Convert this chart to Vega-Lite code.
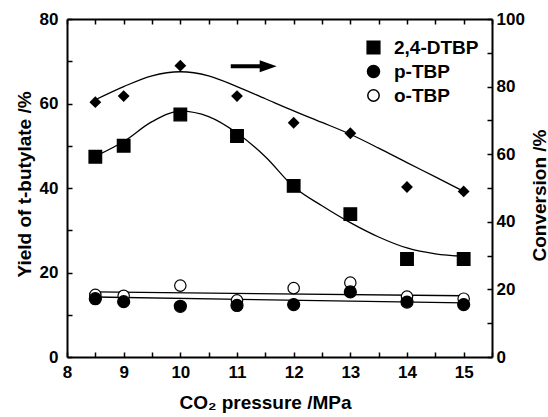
{
  "$schema": "https://vega.github.io/schema/vega-lite/v6.json",
  "width": 425,
  "height": 338,
  "autosize": {"type": "none"},
  "padding": {"left": 67, "top": 19, "right": 56, "bottom": 60},
  "background": "white",
  "config": {
    "view": {"stroke": null},
    "font": "Liberation Sans",
    "axis": {
      "domainColor": "black", "domainWidth": 2, "tickColor": "black", "tickWidth": 1.5,
      "tickSize": -5, "labelColor": "black", "labelFont": "Liberation Sans", "labelFontSize": 17,
      "labelFontWeight": "bold", "titleColor": "black", "titleFont": "Liberation Sans",
      "titleFontSize": 19, "titleFontWeight": "bold", "grid": false
    },
    "legend": {
      "labelFont": "Liberation Sans", "labelFontSize": 19, "labelFontWeight": "bold", "labelColor": "black"
    }
  },
  "datasets": {
    "points": [
      {"series": "o-TBP", "pressure": 8.5, "value": 14.7},
      {"series": "o-TBP", "pressure": 9, "value": 14.5},
      {"series": "o-TBP", "pressure": 10, "value": 16.9},
      {"series": "o-TBP", "pressure": 11, "value": 13.4},
      {"series": "o-TBP", "pressure": 12, "value": 16.3},
      {"series": "o-TBP", "pressure": 13, "value": 17.6},
      {"series": "o-TBP", "pressure": 14, "value": 14.3},
      {"series": "o-TBP", "pressure": 15, "value": 13.8},
      {"series": "p-TBP", "pressure": 8.5, "value": 13.8},
      {"series": "p-TBP", "pressure": 9, "value": 13.1},
      {"series": "p-TBP", "pressure": 10, "value": 12.0},
      {"series": "p-TBP", "pressure": 11, "value": 12.2},
      {"series": "p-TBP", "pressure": 12, "value": 12.4},
      {"series": "p-TBP", "pressure": 13, "value": 15.4},
      {"series": "p-TBP", "pressure": 14, "value": 13.0},
      {"series": "p-TBP", "pressure": 15, "value": 12.4},
      {"series": "2,4-DTBP", "pressure": 8.5, "value": 47.4},
      {"series": "2,4-DTBP", "pressure": 9, "value": 50.0},
      {"series": "2,4-DTBP", "pressure": 10, "value": 57.4},
      {"series": "2,4-DTBP", "pressure": 11, "value": 52.3},
      {"series": "2,4-DTBP", "pressure": 12, "value": 40.5},
      {"series": "2,4-DTBP", "pressure": 13, "value": 33.8},
      {"series": "2,4-DTBP", "pressure": 14, "value": 23.2},
      {"series": "2,4-DTBP", "pressure": 15, "value": 23.2}
    ],
    "fits": [
      {"series": "2,4-DTBP", "pressure": 8.5, "value": 47.5},
      {"series": "2,4-DTBP", "pressure": 9, "value": 51.0},
      {"series": "2,4-DTBP", "pressure": 9.5, "value": 55.7},
      {"series": "2,4-DTBP", "pressure": 10, "value": 58.2},
      {"series": "2,4-DTBP", "pressure": 10.5, "value": 56.9},
      {"series": "2,4-DTBP", "pressure": 11, "value": 53.0},
      {"series": "2,4-DTBP", "pressure": 11.5, "value": 47.4},
      {"series": "2,4-DTBP", "pressure": 12, "value": 40.3},
      {"series": "2,4-DTBP", "pressure": 12.5, "value": 35.8},
      {"series": "2,4-DTBP", "pressure": 13, "value": 31.8},
      {"series": "2,4-DTBP", "pressure": 13.5, "value": 28.4},
      {"series": "2,4-DTBP", "pressure": 14, "value": 25.8},
      {"series": "2,4-DTBP", "pressure": 14.5, "value": 24.4},
      {"series": "2,4-DTBP", "pressure": 15, "value": 23.8},
      {"series": "o-TBP", "pressure": 8.5, "value": 15.4},
      {"series": "o-TBP", "pressure": 15, "value": 14.5},
      {"series": "p-TBP", "pressure": 8.5, "value": 14.2},
      {"series": "p-TBP", "pressure": 15, "value": 12.8}
    ],
    "conversion": [
      {"pressure": 8.5, "value": 75.4},
      {"pressure": 9, "value": 77.2},
      {"pressure": 10, "value": 86.2},
      {"pressure": 11, "value": 77.2},
      {"pressure": 12, "value": 69.3},
      {"pressure": 13, "value": 66.2},
      {"pressure": 14, "value": 50.3},
      {"pressure": 15, "value": 49.0}
    ],
    "conversionFit": [
      {"pressure": 8.5, "value": 76.1},
      {"pressure": 9, "value": 80.0},
      {"pressure": 9.5, "value": 83.2},
      {"pressure": 10, "value": 84.4},
      {"pressure": 10.5, "value": 83.2},
      {"pressure": 11, "value": 80.0},
      {"pressure": 11.5, "value": 76.4},
      {"pressure": 12, "value": 72.8},
      {"pressure": 12.5, "value": 69.4},
      {"pressure": 13, "value": 65.9},
      {"pressure": 13.5, "value": 61.8},
      {"pressure": 14, "value": 57.5},
      {"pressure": 14.5, "value": 53.3},
      {"pressure": 15, "value": 49.0}
    ],
    "arrow": [
      {"start": 10.89, "end": 11.45, "head": 11.55, "value": 68.8}
    ]
  },
  "layer": [
    {
      "data": {"name": "fits"},
      "mark": {"type": "line", "color": "black", "strokeWidth": 1.3, "interpolate": "monotone"},
      "encoding": {
        "x": {
          "field": "pressure", "type": "quantitative",
          "scale": {"domain": [8, 15.5], "nice": false, "zero": false},
          "axis": {
            "orient": "bottom", "title": "CO₂ pressure /MPa",
            "values": [8, 8.5, 9, 9.5, 10, 10.5, 11, 11.5, 12, 12.5, 13, 13.5, 14, 14.5, 15, 15.5],
            "labelExpr": "datum.value % 1 == 0 ? format(datum.value, 'd') : ''",
            "labelPadding": 12, "labelFlush": false,
            "titleX": 198, "titleY": 36, "titleAlign": "center", "titleBaseline": "top"
          }
        },
        "y": {
          "field": "value", "type": "quantitative",
          "scale": {"domain": [0, 80], "nice": false},
          "axis": {
            "orient": "left", "title": "Yield of t-butylate /%",
            "values": [0, 10, 20, 30, 40, 50, 60, 70, 80],
            "labelExpr": "datum.value % 20 == 0 ? datum.label : ''",
            "labelPadding": 14, "labelFlush": false,
            "titleX": -43, "titleY": 165, "titleAngle": 270, "titleAlign": "center", "titleBaseline": "middle"
          }
        },
        "detail": {"field": "series", "type": "nominal"}
      }
    },
    {
      "data": {"name": "points"},
      "mark": {"type": "point", "filled": true, "strokeWidth": 1.2, "opacity": 1},
      "encoding": {
        "x": {
          "field": "pressure", "type": "quantitative",
          "scale": {"domain": [8, 15.5], "nice": false, "zero": false},
          "axis": {
            "orient": "top", "title": null, "labels": false,
            "values": [8, 8.5, 9, 9.5, 10, 10.5, 11, 11.5, 12, 12.5, 13, 13.5, 14, 14.5, 15, 15.5]
          }
        },
        "y": {"field": "value", "type": "quantitative", "scale": {"domain": [0, 80], "nice": false}, "axis": null},
        "shape": {
          "field": "series", "type": "nominal",
          "scale": {"domain": ["2,4-DTBP", "p-TBP", "o-TBP"], "range": ["square", "circle", "circle"]},
          "legend": {"title": null, "orient": "none", "legendX": 297, "legendY": 19, "padding": 0, "rowPadding": 4, "labelOffset": 11}
        },
        "fill": {
          "field": "series", "type": "nominal",
          "scale": {"domain": ["2,4-DTBP", "p-TBP", "o-TBP"], "range": ["black", "black", "white"]},
          "legend": {"title": null, "orient": "none", "legendX": 297, "legendY": 19, "padding": 0, "rowPadding": 4, "labelOffset": 11}
        },
        "stroke": {
          "field": "series", "type": "nominal",
          "scale": {"domain": ["2,4-DTBP", "p-TBP", "o-TBP"], "range": ["black", "black", "black"]},
          "legend": {"title": null, "orient": "none", "legendX": 297, "legendY": 19, "padding": 0, "rowPadding": 4, "labelOffset": 11}
        },
        "size": {
          "field": "series", "type": "nominal",
          "scale": {"domain": ["2,4-DTBP", "p-TBP", "o-TBP"], "range": [160, 130, 130]},
          "legend": {"title": null, "orient": "none", "legendX": 297, "legendY": 19, "padding": 0, "rowPadding": 4, "labelOffset": 11}
        }
      }
    },
    {
      "data": {"name": "arrow"},
      "mark": {"type": "rule", "color": "black", "strokeWidth": 4},
      "encoding": {
        "x": {"field": "start", "type": "quantitative", "scale": {"domain": [8, 15.5], "nice": false, "zero": false}, "axis": null},
        "x2": {"field": "end"},
        "y": {"field": "value", "type": "quantitative", "scale": {"domain": [0, 80], "nice": false}, "axis": null}
      }
    },
    {
      "data": {"name": "arrow"},
      "mark": {"type": "point", "shape": "M-1,-0.7L1,0L-1,0.7Z", "filled": true, "color": "black", "size": 289, "opacity": 1},
      "encoding": {
        "x": {"field": "head", "type": "quantitative", "scale": {"domain": [8, 15.5], "nice": false, "zero": false}, "axis": null},
        "y": {"field": "value", "type": "quantitative", "scale": {"domain": [0, 80], "nice": false}, "axis": null}
      }
    },
    {
      "data": {"name": "conversionFit"},
      "mark": {"type": "line", "color": "black", "strokeWidth": 1.3, "interpolate": "monotone"},
      "encoding": {
        "x": {"field": "pressure", "type": "quantitative", "scale": {"domain": [8, 15.5], "nice": false, "zero": false}, "axis": null},
        "y": {
          "field": "value", "type": "quantitative",
          "scale": {"domain": [0, 100], "nice": false},
          "axis": {
            "orient": "right", "title": "Conversion /%",
            "values": [0, 10, 20, 30, 40, 50, 60, 70, 80, 90, 100],
            "labelExpr": "datum.value % 20 == 0 ? datum.label : ''",
            "labelPadding": 9, "labelFlush": false,
            "titleX": 47, "titleY": 176, "titleAngle": 270, "titleAlign": "center", "titleBaseline": "middle"
          }
        }
      }
    },
    {
      "data": {"name": "conversion"},
      "mark": {"type": "point", "shape": "diamond", "filled": true, "color": "black", "size": 140, "opacity": 1},
      "encoding": {
        "x": {"field": "pressure", "type": "quantitative", "scale": {"domain": [8, 15.5], "nice": false, "zero": false}, "axis": null},
        "y": {"field": "value", "type": "quantitative", "scale": {"domain": [0, 100], "nice": false}, "axis": null}
      }
    }
  ],
  "resolve": {"scale": {"y": "independent"}, "axis": {"x": "independent", "y": "independent"}}
}
